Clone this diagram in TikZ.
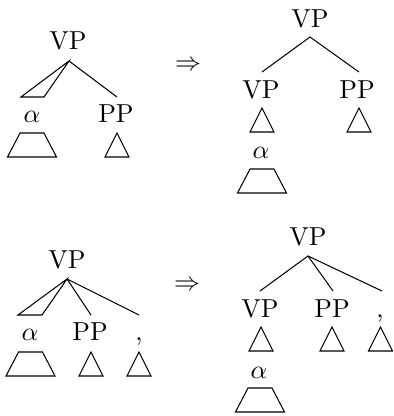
\documentclass[tikz,border=0pt]{standalone}
\begin{document}
\begin{tikzpicture}[x=0.385pt, y=-0.385pt,
  cat/.style = {anchor=base, inner sep=0pt},
  tri/.pic = {\draw (0,0) -- (-12,24) -- (12,24) -- cycle;},
  trap/.pic = {\draw (-12,0) -- (12,0) -- (24.5,24) -- (-24.5,24) -- cycle;}
  ]
  \useasboundingbox (0,0) rectangle (393,416);
  % top left: VP with alpha roof and PP
  \node[cat] (a vp) at (68,49) {VP};
  \coordinate (a top) at (69,61);
  \coordinate (a roofl) at (21,97);
  \coordinate (a roofr) at (44,97);
  \coordinate (a pp end) at (117,97);
  \node[cat] (a alpha) at (32,122) {$\alpha$};
  \node[cat] (a pp) at (116,122) {PP};
  \draw (a roofl) -- (a top) -- (a roofr) -- cycle;
  \draw (a top) -- (a pp end);
  \pic at (32,133) {trap};
  \pic at (117,133) {tri};
  \node (arr top) at (188,66) {$\Rightarrow$};
  % top right: VP over VP and PP
  \node[cat] (b vp) at (310,27) {VP};
  \coordinate (b top) at (310,37);
  \coordinate (b vp end) at (262,72);
  \coordinate (b pp end) at (359,72);
  \node[cat] (b vp2) at (261,98) {VP};
  \node[cat] (b pp) at (357,98) {PP};
  \draw (b vp end) -- (b top) -- (b pp end);
  \pic at (262,108) {tri};
  \pic at (359,108) {tri};
  \node[cat] (b alpha) at (261,158) {$\alpha$};
  \pic at (262,169) {trap};
  % bottom left: VP with alpha roof, PP and comma
  \node[cat] (c vp) at (67,268) {VP};
  \coordinate (c top) at (67,279);
  \coordinate (c roofl) at (18,315);
  \coordinate (c roofr) at (42,315);
  \coordinate (c pp end) at (91,315);
  \coordinate (c comma end) at (139,315);
  \node[cat] (c alpha) at (30,340) {$\alpha$};
  \node[cat] (c pp) at (90,340) {PP};
  \node[cat] (c comma) at (139,340) {,};
  \draw (c roofl) -- (c top) -- (c roofr) -- cycle;
  \draw (c top) -- (c pp end);
  \draw (c top) -- (c comma end);
  \pic at (30.5,352) {trap};
  \pic at (91,352) {tri};
  \pic at (139,352) {tri};
  \node (arr bottom) at (187,286) {$\Rightarrow$};
  % bottom right: VP over VP, PP and comma
  \node[cat] (d vp) at (308,245) {VP};
  \coordinate (d top) at (308,256);
  \coordinate (d vp end) at (260,291);
  \coordinate (d pp end) at (333,291);
  \coordinate (d comma end) at (382,291);
  \node[cat] (d vp2) at (260,317) {VP};
  \node[cat] (d pp) at (332,317) {PP};
  \node[cat] (d comma) at (380,317) {,};
  \draw (d vp end) -- (d top) -- (d pp end);
  \draw (d top) -- (d comma end);
  \pic at (261,327) {tri};
  \pic at (332,327) {tri};
  \pic at (380.5,327) {tri};
  \node[cat] (d alpha) at (259,378) {$\alpha$};
  \pic at (260,388) {trap};
\end{tikzpicture}
\end{document}
